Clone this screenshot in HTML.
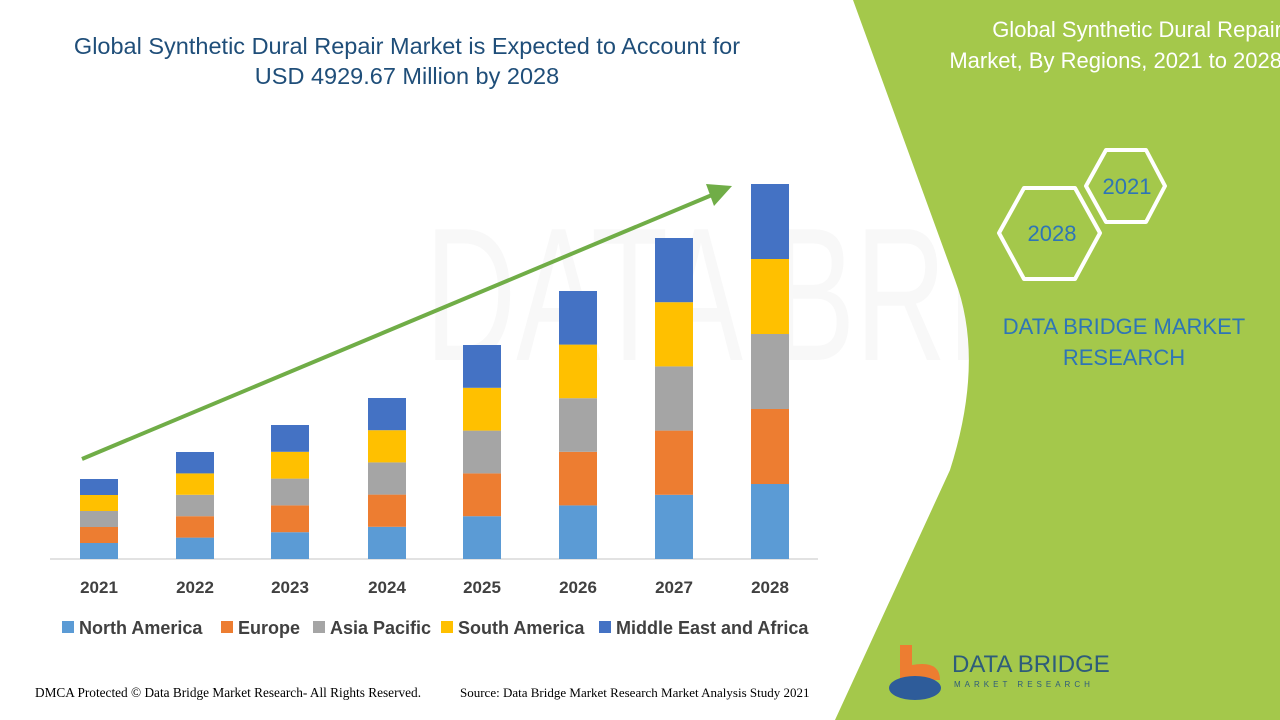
<!DOCTYPE html>
<html><head><meta charset="utf-8"><style>
body{margin:0;width:1280px;height:720px;overflow:hidden;background:#fff;font-family:"Liberation Sans",sans-serif}
</style></head><body>
<svg width="1280" height="720" xmlns="http://www.w3.org/2000/svg" style="position:absolute;left:0;top:0">
<text x="425" y="360" font-size="190" fill="#f8f8f8" textLength="830" lengthAdjust="spacingAndGlyphs">DATA BRIDGE</text>
<path d="M853,0 L1280,0 L1280,720 L835,720 L950,470 Q985,360 955,280 Z" fill="#a4c84b"/>
<text x="407" y="54" font-size="23.5" fill="#1f4e79" text-anchor="middle">Global Synthetic Dural Repair Market is Expected to Account for</text>
<text x="407" y="84" font-size="23.5" fill="#1f4e79" text-anchor="middle">USD 4929.67 Million by 2028</text>
<text x="1282" y="37" font-size="22" fill="#fff" text-anchor="end">Global Synthetic Dural Repair</text>
<text x="1282" y="68" font-size="22" fill="#fff" text-anchor="end">Market, By Regions, 2021 to 2028</text>
<polygon points="1086,186 1106,150 1146,150 1165,186 1146,222 1106,222" fill="none" stroke="#fff" stroke-width="4" stroke-linejoin="round"/>
<polygon points="999,233 1024,188 1075,188 1100,233 1075,279 1024,279" fill="none" stroke="#fff" stroke-width="4" stroke-linejoin="round"/>
<text x="1127" y="194" font-size="22" fill="#2e75b6" text-anchor="middle">2021</text>
<text x="1052" y="241" font-size="22" fill="#2e75b6" text-anchor="middle">2028</text>
<text x="1124" y="334" font-size="22" fill="#2e75b6" text-anchor="middle">DATA BRIDGE MARKET</text>
<text x="1124" y="365" font-size="22" fill="#2e75b6" text-anchor="middle">RESEARCH</text>
<line x1="50" y1="559" x2="818" y2="559" stroke="#d9d9d9" stroke-width="1.5"/>
<g id="bars"></g>
<line x1="82" y1="459" x2="712" y2="195" stroke="#70ad47" stroke-width="4"/>
<polygon points="732,186 706,184 714,206" fill="#70ad47"/>
<g font-size="17" font-weight="bold" fill="#404040" text-anchor="middle">
<text x="99" y="593">2021</text><text x="195" y="593">2022</text><text x="290" y="593">2023</text><text x="387" y="593">2024</text><text x="482" y="593">2025</text><text x="578" y="593">2026</text><text x="674" y="593">2027</text><text x="770" y="593">2028</text>
</g>
<g font-size="18" font-weight="bold" fill="#404040">
<rect x="62" y="621" width="12" height="12" fill="#5b9bd5"/><text x="79" y="634">North America</text>
<rect x="221" y="621" width="12" height="12" fill="#ed7d31"/><text x="238" y="634">Europe</text>
<rect x="313" y="621" width="12" height="12" fill="#a5a5a5"/><text x="330" y="634">Asia Pacific</text>
<rect x="441" y="621" width="12" height="12" fill="#ffc000"/><text x="458" y="634">South America</text>
<rect x="599" y="621" width="12" height="12" fill="#4472c4"/><text x="616" y="634">Middle East and Africa</text>
</g>
<text x="35" y="697" font-size="13.3" font-family="Liberation Serif, serif" fill="#000">DMCA Protected © Data Bridge Market Research- All Rights Reserved.</text>
<text x="460" y="697" font-size="13" font-family="Liberation Serif, serif" fill="#000">Source: Data Bridge Market Research Market Analysis Study 2021</text>
<path d="M900,645 L912,645 L912,665 Q940,660 940,680 L900,680 Z" fill="#ed7d31"/>
<ellipse cx="915" cy="688" rx="26" ry="12" fill="#2e5c9a"/>
<text x="952" y="672" font-size="24" fill="#2e5c7a">DATA BRIDGE</text>
<text x="954" y="687" font-size="8" fill="#2e5c7a" letter-spacing="4">MARKET RESEARCH</text>
</svg>
<script>
var tops=[479,452,425,398,345,291,238,184],xs=[80,176,271,368,463,559,655,751];
var cols=["#5b9bd5","#ed7d31","#a5a5a5","#ffc000","#4472c4"];
var g=document.getElementById("bars"),s="";
for(var i=0;i<8;i++){var h=(559-tops[i])/5;for(var k=0;k<5;k++){s+='<rect x="'+xs[i]+'" y="'+(559-h*(k+1))+'" width="38" height="'+h+'" fill="'+cols[k]+'"/>';}}
g.innerHTML=s;
</script>
</body></html>
